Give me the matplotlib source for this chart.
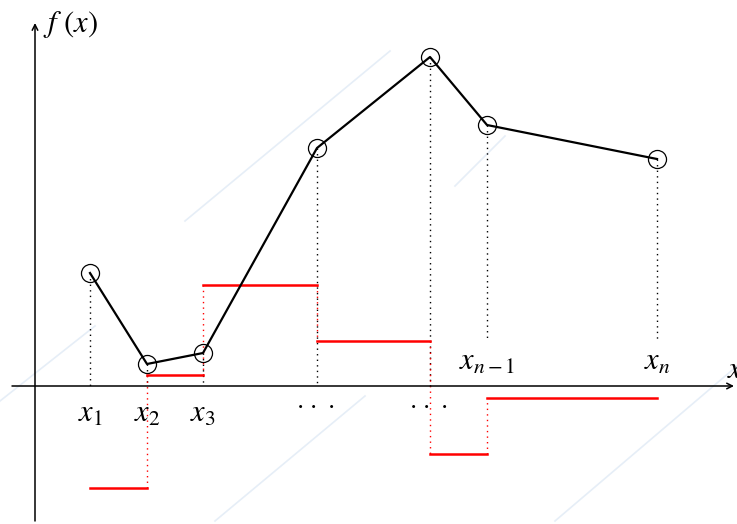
import matplotlib.pyplot as plt

plt.rcParams['mathtext.fontset'] = 'stix'

# node positions of the piecewise linear function
xs = [55, 112, 168, 282, 395, 452, 622]
fx = [113, 22, 33, 238, 329, 261, 227]

# slope of each piece (drawn as red steps)
slopes = [-102, 11, 101, 45, -68, -12]

xlabels = [r'$x_1$', r'$x_2$', r'$x_3$', r'$\cdot\,\cdot\,\cdot$', r'$\cdot\,\cdot\,\cdot$',
           r'$x_{n-1}$', r'$x_n$']

fig = plt.figure(figsize=(7.37, 5.24), dpi=100)
ax = fig.add_axes([0, 0, 1, 1])
ax.set_xlim(-35, 702)
ax.set_ylim(-138, 386)
ax.axis('off')

# faint background lines
for (a, b), (c, d) in [((150, 165), (355, 335)), ((-35, -15), (60, 60)),
                       ((520, -135), (702, 20)), ((180, -135), (330, -10)),
                       ((420, 200), (470, 250))]:
    ax.plot([a, c], [b, d], color='#e6eef7', lw=1.2, zorder=0)

# axes with arrows
ax.annotate('', xy=(699, 0), xytext=(-23, 0),
            arrowprops=dict(arrowstyle='->', lw=1.1, color='black', shrinkA=0, shrinkB=0))
ax.annotate('', xy=(0, 363), xytext=(0, -135),
            arrowprops=dict(arrowstyle='->', lw=1.1, color='black', shrinkA=0, shrinkB=0))
ax.text(8, 362, r'$f\ (x)$', fontsize=22, va='center', ha='left')
ax.text(692, 16, r'$x$', fontsize=22, va='center', ha='left')

# dotted drops from each node
for i, (x, y) in enumerate(zip(xs, fx)):
    bottom = 46 if i >= 5 else 0
    ax.plot([x, x], [y, bottom], color='black', lw=1, ls=(0, (1, 3)), zorder=1)

# red steps
for i, s in enumerate(slopes):
    ax.plot([xs[i], xs[i + 1]], [s, s], color='red', lw=1.8, zorder=2)
    if i > 0:
        ax.plot([xs[i], xs[i]], [slopes[i - 1], s], color='red', lw=1,
                ls=(0, (1, 3)), zorder=1)

# function
ax.plot(xs, fx, color='black', lw=1.6, zorder=3)
ax.plot(xs, fx, 'o', ms=13, mfc='none', mec='black', mew=0.9, zorder=4)

# tick labels
for i, (x, lab) in enumerate(zip(xs, xlabels)):
    if i >= 5:
        ax.text(x, 25, lab, fontsize=22, ha='center', va='center')
    elif i >= 3:
        ax.text(x - 2, -18, lab, fontsize=18, ha='center', va='center')
    else:
        ax.text(x, -28, lab, fontsize=22, ha='center', va='center')

fig.savefig('out.png', dpi=100)
